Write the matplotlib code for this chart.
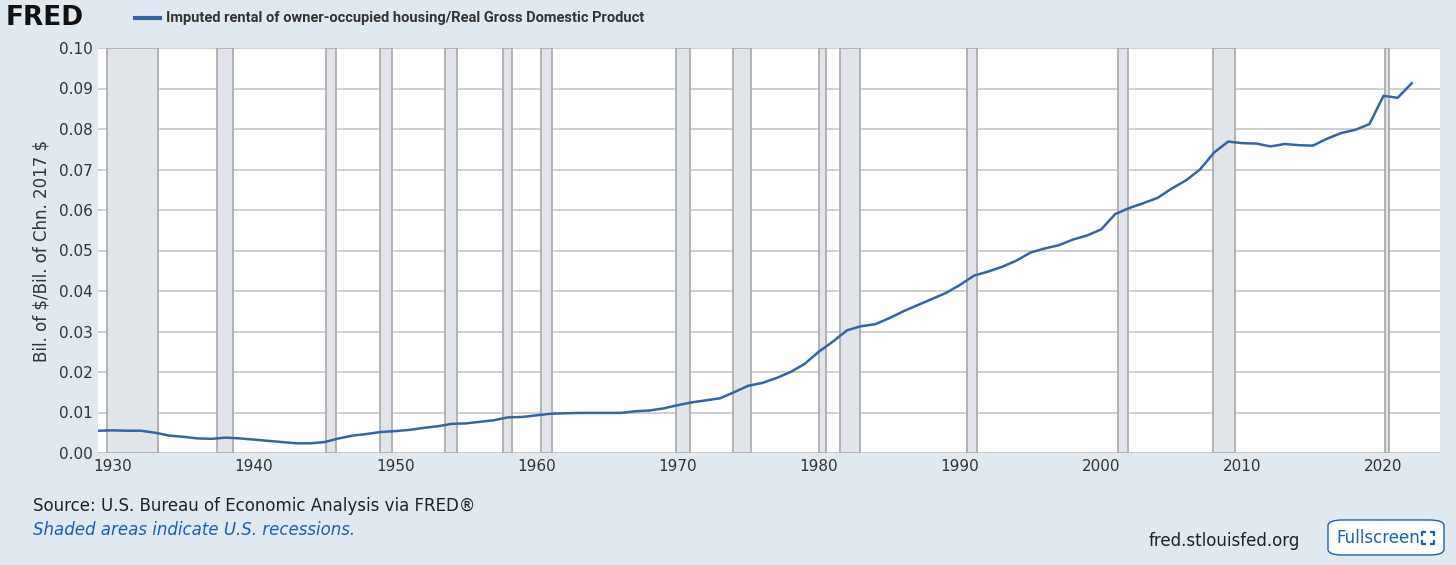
import matplotlib.pyplot as plt
from matplotlib.patches import FancyBboxPatch

years = list(range(1929, 2023))
ratio = [0.0055, 0.0056, 0.0055, 0.0055, 0.0050, 0.0043, 0.0040, 0.0036, 0.0035, 0.0038,
         0.0036, 0.0033, 0.0030, 0.0027, 0.0024, 0.0024, 0.0027, 0.0036, 0.0043, 0.0047,
         0.0052, 0.0054, 0.0057, 0.0062, 0.0066, 0.0072, 0.0073, 0.0077, 0.0081, 0.0088,
         0.0089, 0.0093, 0.0097, 0.0098, 0.0099, 0.0099, 0.0099, 0.0099, 0.0103, 0.0105,
         0.0110, 0.0118, 0.0125, 0.0130, 0.0135, 0.0150, 0.0166, 0.0173, 0.0185, 0.0200,
         0.0220, 0.0250, 0.0275, 0.0303, 0.0313, 0.0318, 0.0333, 0.0350, 0.0365, 0.0380,
         0.0395, 0.0415, 0.0438, 0.0448, 0.0460, 0.0475, 0.0495, 0.0505, 0.0513, 0.0527,
         0.0537, 0.0552, 0.0590, 0.0605, 0.0617, 0.0630, 0.0653, 0.0673, 0.0700, 0.0742,
         0.0769, 0.0765, 0.0764, 0.0757, 0.0763, 0.0760, 0.0759, 0.0776, 0.0790, 0.0798,
         0.0812, 0.0882, 0.0877, 0.0913]
recessions = [(1929.6, 1933.2), (1937.4, 1938.5), (1945.1, 1945.8), (1948.9, 1949.8),
              (1953.5, 1954.4), (1957.6, 1958.3), (1960.3, 1961.1), (1969.9, 1970.9),
              (1973.9, 1975.2), (1980.0, 1980.5), (1981.5, 1982.9), (1990.5, 1991.2),
              (2001.2, 2001.9), (2007.9, 2009.5), (2020.1, 2020.4)]
yticks = [0.00, 0.01, 0.02, 0.03, 0.04, 0.05, 0.06, 0.07, 0.08, 0.09, 0.10]
xticks = list(range(1930, 2021, 10))

bg = '#e1e9f0'
fig = plt.figure(figsize=(14.56, 5.65), dpi=100, facecolor=bg)
ax = fig.add_axes([98 / 1456, 1 - 453 / 565, (1440 - 98) / 1456, (453 - 48) / 565])
ax.set_facecolor('white')

for a, b in recessions:
    ax.axvspan(a, b, facecolor='#e1e5ea', edgecolor='#a8a8a8', linewidth=1.2, zorder=1)

ax.set_yticks(yticks)
ax.set_yticklabels([f'{v:.2f}' for v in yticks], fontsize=11, color='#333333')
ax.set_xticks(xticks)
ax.set_xticklabels([str(x) for x in xticks], fontsize=11, color='#333333')
ax.grid(axis='y', color='#c8c8c8', linewidth=1.2, zorder=0)
ax.set_axisbelow(True)
ax.set_xlim(1928.95, 2024.0)
ax.set_ylim(0, 0.10)
for s in ax.spines.values():
    s.set_visible(False)
ax.tick_params(length=0, pad=4)
ax.axhline(0, color='#c8c8c8', linewidth=1.2, zorder=0)

ax.plot(years, ratio, color='#3465a1', linewidth=1.8, zorder=3)
ax.set_ylabel(r'Bil. of \$/Bil. of Chn. 2017 \$', fontsize=12, color='#333333', labelpad=6)

fig.text(6 / 1456, 1 - 18 / 565, 'FRED', fontsize=19, fontweight='black', va='center', color='#111111')
fig.text(166 / 1456, 1 - 18 / 565, 'Imputed rental of owner-occupied housing/Real Gross Domestic Product',
         fontsize=10.5, fontweight='bold', va='center', color='#333333', family='Roboto')
fig.lines.append(plt.Line2D([135 / 1456, 160 / 1456], [1 - 18 / 565] * 2, color='#3465a1', linewidth=3,
                            transform=fig.transFigure))
fig.text(33 / 1456, 1 - 506 / 565, 'Source: U.S. Bureau of Economic Analysis via FRED®', fontsize=12,
         va='center', color='#222222')
fig.text(33 / 1456, 1 - 530 / 565, 'Shaded areas indicate U.S. recessions.', fontsize=12, style='italic',
         va='center', color='#1b5fb0')
fig.text(1300 / 1456, 1 - 541 / 565, 'fred.stlouisfed.org', fontsize=12, ha='right', va='center', color='#222222')
box = FancyBboxPatch((1328 / 1456, 1 - 555 / 565), 116 / 1456, 35 / 565, boxstyle='round,pad=0,rounding_size=0.01',
                     transform=fig.transFigure, facecolor='white', edgecolor='#1b5fb0', linewidth=1)
fig.patches.append(box)
fig.text(1378 / 1456, 1 - 538 / 565, 'Fullscreen', fontsize=12, ha='center', va='center', color='#1b5fb0')

# fullscreen icon corners
cx, cy, h, k = 1428, 538, 6, 3
for sx in (-1, 1):
    for sy in (-1, 1):
        px, py = cx + sx * h, cy + sy * h
        xs = [px - sx * k, px, px]
        ys = [py, py, py - sy * k]
        fig.lines.append(plt.Line2D([x / 1456 for x in xs], [1 - y / 565 for y in ys], color='#1b5fb0',
                                    linewidth=1.6, transform=fig.transFigure))

fig.savefig('out.png', dpi=100, facecolor=bg)
